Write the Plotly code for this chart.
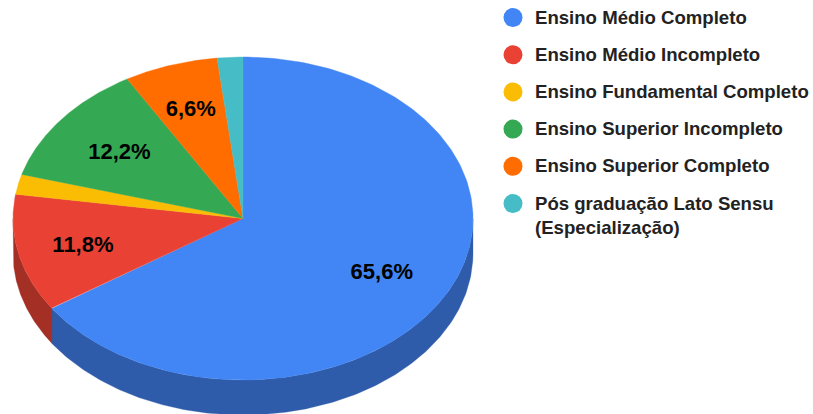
import numpy as np
import plotly.graph_objects as go

categories = ["Ensino Médio Completo", "Ensino Médio Incompleto", "Ensino Fundamental Completo",
              "Ensino Superior Incompleto", "Ensino Superior Completo",
              "Pós graduação Lato Sensu<br>(Especialização)"]
values = [65.6, 11.8, 2.0, 12.2, 6.6, 1.8]
labels = ["65,6%", "11,8%", "", "12,2%", "6,6%", ""]
colors = ["#4285f4", "#e94235", "#fbbc04", "#34a853", "#ff6d01", "#46bdc6"]
side_colors = ["#2e5cab", "#a32f25", "#b08403", "#24763a", "#b34c01", "#31848b"]

W, H = 813, 414
CX, CY, RX, RY, DEPTH = 243, 218.5, 230, 161.5, 35
LABEL_R = [0.684, 0.713, 0.70, 0.68, 0.72, 0.70]
LABEL_DY = 2.5


def ell(t, dy=0.0):
    return CX + RX * np.sin(t), CY + dy - RY * np.cos(t)


fig = go.Figure()
total = sum(values)
edges = np.concatenate([[0], np.cumsum(values)]) / total * 2 * np.pi

# side walls (front half only)
for i, v in enumerate(values):
    a, b = max(edges[i], np.pi / 2), min(edges[i + 1], 3 * np.pi / 2)
    if b <= a:
        continue
    t = np.linspace(a, b, 200)
    x1, y1 = ell(t)
    x2, y2 = ell(t[::-1], DEPTH)
    fig.add_trace(go.Scatter(x=np.r_[x1, x2, x1[0]], y=np.r_[y1, y2, y1[0]], mode="lines",
                             fill="toself", fillcolor=side_colors[i],
                             line=dict(color=side_colors[i], width=0.3), hoverinfo="skip"))

# top faces
for i, v in enumerate(values):
    t = np.linspace(edges[i], edges[i + 1], 200)
    x, y = ell(t)
    fig.add_trace(go.Scatter(x=np.r_[CX, x, CX], y=np.r_[CY, y, CY], mode="lines",
                             fill="toself", fillcolor=colors[i],
                             line=dict(color=colors[i], width=0.4),
                             name=categories[i].replace("<br>", " "), hoverinfo="name"))

# slice labels
mids = (edges[:-1] + edges[1:]) / 2
lx, ly = ell(mids)
lx = CX + (lx - CX) * np.array(LABEL_R)
ly = CY + (ly - CY) * np.array(LABEL_R) + LABEL_DY
fig.add_trace(go.Scatter(x=lx, y=ly, mode="text", text=labels, textposition="middle center",
                         textfont=dict(family="Liberation Sans", size=22, color="#000000",
                                       weight="bold"), hoverinfo="skip"))

# legend
LEG_X, LEG_Y0, LEG_STEP, LEG_TX = 513, 17.5, 37.2, 535
ly2 = [LEG_Y0 + LEG_STEP * i for i in range(len(categories))]
fig.add_trace(go.Scatter(x=[LEG_X] * len(categories), y=ly2, mode="markers",
                         marker=dict(size=19, color=colors, line=dict(width=0)), hoverinfo="skip"))
for name, yy in zip(categories, ly2):
    fig.add_annotation(x=LEG_TX, y=yy - 11, text=name, showarrow=False, xanchor="left", yanchor="top",
                       align="left", xref="x", yref="y", borderpad=0, borderwidth=0,
                       font=dict(family="Liberation Sans", size=18.6, color="#222222", weight="bold"))

fig.update_layout(width=W, height=H, margin=dict(l=0, r=0, t=0, b=0), showlegend=False,
                  paper_bgcolor="white", plot_bgcolor="white",
                  xaxis=dict(range=[0, W], visible=False, fixedrange=True),
                  yaxis=dict(range=[H, 0], visible=False, fixedrange=True))
fig.write_html("out.html", config=dict(displayModeBar=False),
               post_script="document.body.style.margin='0';")
